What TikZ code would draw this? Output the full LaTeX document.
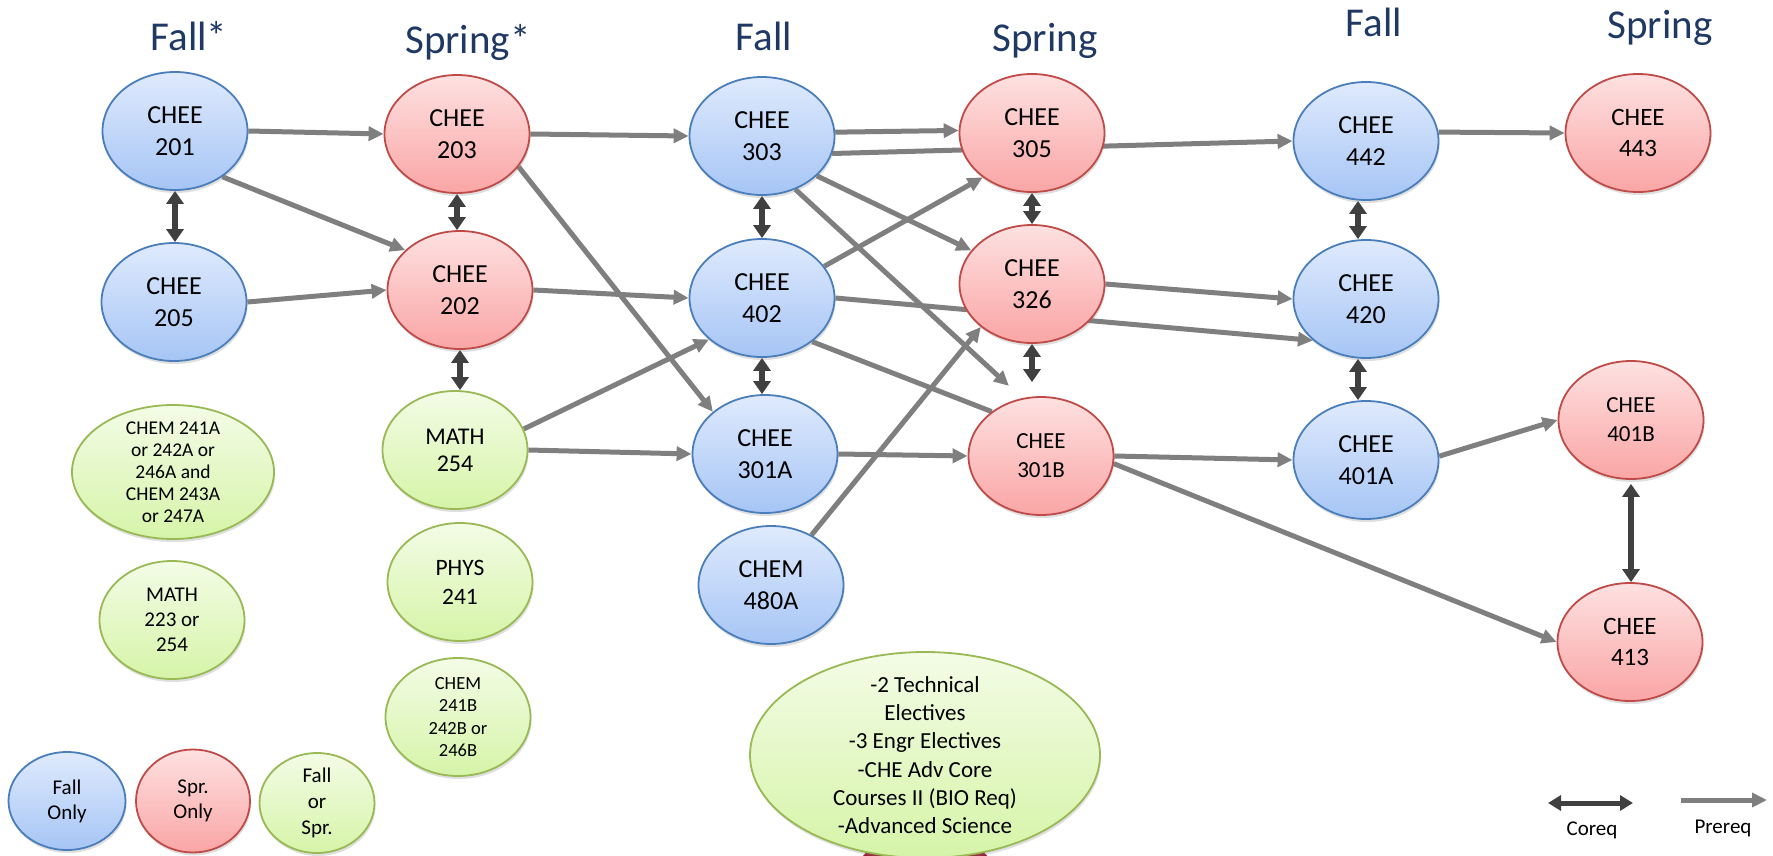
\documentclass[tikz,border=0pt]{standalone}
\usepackage{fontspec}
\setmainfont{Carlito}
\usetikzlibrary{arrows.meta,shapes.geometric,shadows,backgrounds}
\definecolor{bluetop}{HTML}{DFEAFD}
\definecolor{bluebot}{HTML}{A6C5F5}
\definecolor{blueline}{HTML}{4A7EBB}
\definecolor{redtop}{HTML}{FEE1E1}
\definecolor{redbot}{HTML}{FAA5A5}
\definecolor{redline}{HTML}{BE4B48}
\definecolor{greentop}{HTML}{F3FCE6}
\definecolor{greenbot}{HTML}{D6F4A8}
\definecolor{greenline}{HTML}{98B954}
\definecolor{preqcol}{HTML}{7F7F7F}
\definecolor{coreqcol}{HTML}{404040}
\definecolor{hdrcol}{HTML}{1F3864}
\definecolor{darkred}{HTML}{9E1A2E}
\tikzset{
  course/.style={ellipse, minimum width=145pt, minimum height=118pt, inner sep=0pt,
    align=center, line width=1.8pt, font=\fontsize{26}{32}\selectfont,
    drop shadow={opacity=0.25, shadow xshift=1pt, shadow yshift=-3pt}},
  fallc/.style={course, draw=blueline, top color=bluetop, bottom color=bluebot},
  sprc/.style={course, draw=redline, top color=redtop, bottom color=redbot},
  anyc/.style={course, draw=greenline, top color=greentop, bottom color=greenbot},
  hdr/.style={font=\fontsize{41}{48}\selectfont, text=hdrcol, anchor=base, inner sep=0pt},
  legtext/.style={font=\fontsize{21}{25}\selectfont, anchor=base, inner sep=0pt},
  prereq/.style={draw=preqcol, line width=5pt, -{Triangle[length=15pt,width=14pt]}},
  prline/.style={draw=preqcol, line width=5pt},
  coreq/.style={draw=coreqcol, line width=6pt, {Triangle[length=13pt,width=17pt]}-{Triangle[length=13pt,width=17pt]}},
}
\begin{document}
\begin{tikzpicture}[x=1pt,y=-1pt]
\useasboundingbox (0,0) rectangle (1773,855);
% headers
\node[hdr] (h1) at (189,50) {Fall*};
\node[hdr] (h2) at (468,53) {Spring*};
\node[hdr] (h3) at (764,50) {Fall};
\node[hdr] (h4) at (1045,51) {Spring};
\node[hdr] (h5) at (1374,36) {Fall};
\node[hdr] (h6) at (1660,38) {Spring};
% column 1
\node[fallc] (c201) at (175,131) {CHEE\\201};
\node[fallc] (c205) at (174,302) {CHEE\\205};
\node[anyc, minimum width=202pt, minimum height=134pt, inner ysep=-12pt, font=\fontsize{19.5}{22}\selectfont] (chemA) at (173,472) {CHEM 241A\\or 242A or\\246A and\\CHEM 243A\\or 247A};
\node[anyc, font=\fontsize{21}{25}\selectfont] (m223) at (172,620) {MATH\\223 or\\254};
% column 2
\node[sprc] (c203) at (457,134) {CHEE\\203};
\node[sprc] (c202) at (460,290) {CHEE\\202};
\node[anyc, font=\fontsize{24}{27}\selectfont] (m254) at (455,450) {MATH\\254};
\node[anyc, font=\fontsize{23.5}{29}\selectfont] (p241) at (460,582) {PHYS\\241};
\node[anyc, inner ysep=-6pt, font=\fontsize{18.5}{22.6}\selectfont] (chemB) at (458,717) {CHEM\\241B\\242B or\\246B};
% column 3
\node[fallc] (c303) at (762,136) {CHEE\\303};
\node[fallc] (c402) at (762,298) {CHEE\\402};
\node[fallc] (c301A) at (765,454) {CHEE\\301A};
\node[fallc] (c480) at (771,585) {CHEM\\480A};
% column 4
\node[sprc] (c305) at (1032,133) {CHEE\\305};
\node[sprc] (c326) at (1032,284) {CHEE\\326};
\node[sprc, font=\fontsize{23}{29}\selectfont] (c301B) at (1041,456) {CHEE\\301B};
% column 5
\node[fallc] (c442) at (1366,141) {CHEE\\442};
\node[fallc] (c420) at (1366,299) {CHEE\\420};
\node[fallc] (c401A) at (1366,460) {CHEE\\401A};
% column 6
\node[sprc, font=\fontsize{25}{31}\selectfont] (c443) at (1638,133) {CHEE\\443};
\node[sprc, font=\fontsize{23}{29}\selectfont] (c401B) at (1631,420) {CHEE\\401B};
\node[sprc, font=\fontsize{25}{31}\selectfont] (c413) at (1630,642) {CHEE\\413};
% electives
\node[anyc, minimum width=350pt, minimum height=206pt, inner ysep=-16pt, font=\fontsize{23}{28.3}\selectfont] (elec) at (925,755) {-2 Technical\\Electives\\-3 Engr Electives\\-CHE Adv Core\\Courses II (BIO Req)\\-Advanced Science};
% legend
\node[fallc, minimum width=117pt, minimum height=98pt, font=\fontsize{21}{25}\selectfont] (lf) at (67,801) {Fall\\Only};
\node[sprc, minimum width=114pt, minimum height=103pt, font=\fontsize{21}{25}\selectfont] (ls) at (193,801) {Spr.\\Only};
\node[anyc, minimum width=115pt, minimum height=100pt, inner ysep=-4pt, font=\fontsize{21}{26}\selectfont] (la) at (317,803) {Fall\\or\\Spr.};
\coordinate (cqa) at (1548,803);
\coordinate (cqb) at (1633,803);
\draw[coreq, line width=5pt, {Triangle[length=13pt,width=15pt]}-{Triangle[length=13pt,width=15pt]}] (cqa) -- (cqb);
\node[legtext] (cqt) at (1592,835) {Coreq};
\coordinate (pra) at (1681,800);
\coordinate (prb) at (1767,800);
\draw[prereq] (pra) -- (prb);
\node[legtext] (prt) at (1723,833) {Prereq};
% connectors
\begin{pgfonlayer}{background}
\fill[darkred] (925,900) ellipse (80pt and 70pt);
\draw[prereq] (c201.east) -- (c203.west);
\draw[prereq] (c201.-44) -- (c202.144);
\draw[prereq] (c205.east) -- (c202.west);
\draw[prereq] (c203.east) -- (c303.west);
\draw[prereq] (c203.-28) -- (c301A.141);
\draw[prereq] (c202.east) -- (c402.west);
\draw[prereq] (m254.17) -- (c402.218);
\draw[prereq] (m254.east) -- (c301A.west);
\draw[prereq] (c303.3) -- (c305.178);
\draw[prereq] (c303.-14) -- (c442.west);
\draw[prereq] (c303.-36) -- (c326.151);
\draw[prereq, shorten >=18pt] (c303.-58) -- (c301B.108);
\draw[prereq] (c402.27) -- (c305.222);
\draw[prereq] (c402.east) -- (c420.218);
\draw[prline] (c402.-41) -- (c301B.138);
\draw[prereq] (c326.east) -- (c420.west);
\draw[prereq] (c480.51) -- (c326.220);
\draw[prereq] (c301A.east) -- (c301B.west);
\draw[prereq] (c301B.east) -- (c401A.west);
\draw[prereq] (c301B.-6) -- (c413.west);
\draw[prereq] (c401A.3) -- (c401B.west);
\draw[prereq] (c442.7) -- (c443.west);
% coreqs
\draw[coreq] (c201.south) -- (c201.south |- c205.north);
\draw[coreq] (c203.south) -- (c203.south |- c202.north);
\draw[coreq] (c202.south) -- (c202.south |- m254.north);
\draw[coreq] (c303.south) -- (c303.south |- c402.north);
\draw[coreq] (c402.south) -- (c402.south |- c301A.north);
\draw[coreq] (c305.south) -- (c305.south |- c326.north);
\draw[coreq, shorten >=14pt] (c326.south) -- (c326.south |- c301B.north);
\draw[coreq] ([xshift=-8pt]c442.south) -- ([xshift=-8pt]c442.south |- c420.north);
\draw[coreq] ([xshift=-8pt]c420.south) -- ([xshift=-8pt]c420.south |- c401A.north);
\draw[coreq, shorten <=4pt] (c401B.south) -- (c401B.south |- c413.north);
\end{pgfonlayer}
\end{tikzpicture}
\end{document}
